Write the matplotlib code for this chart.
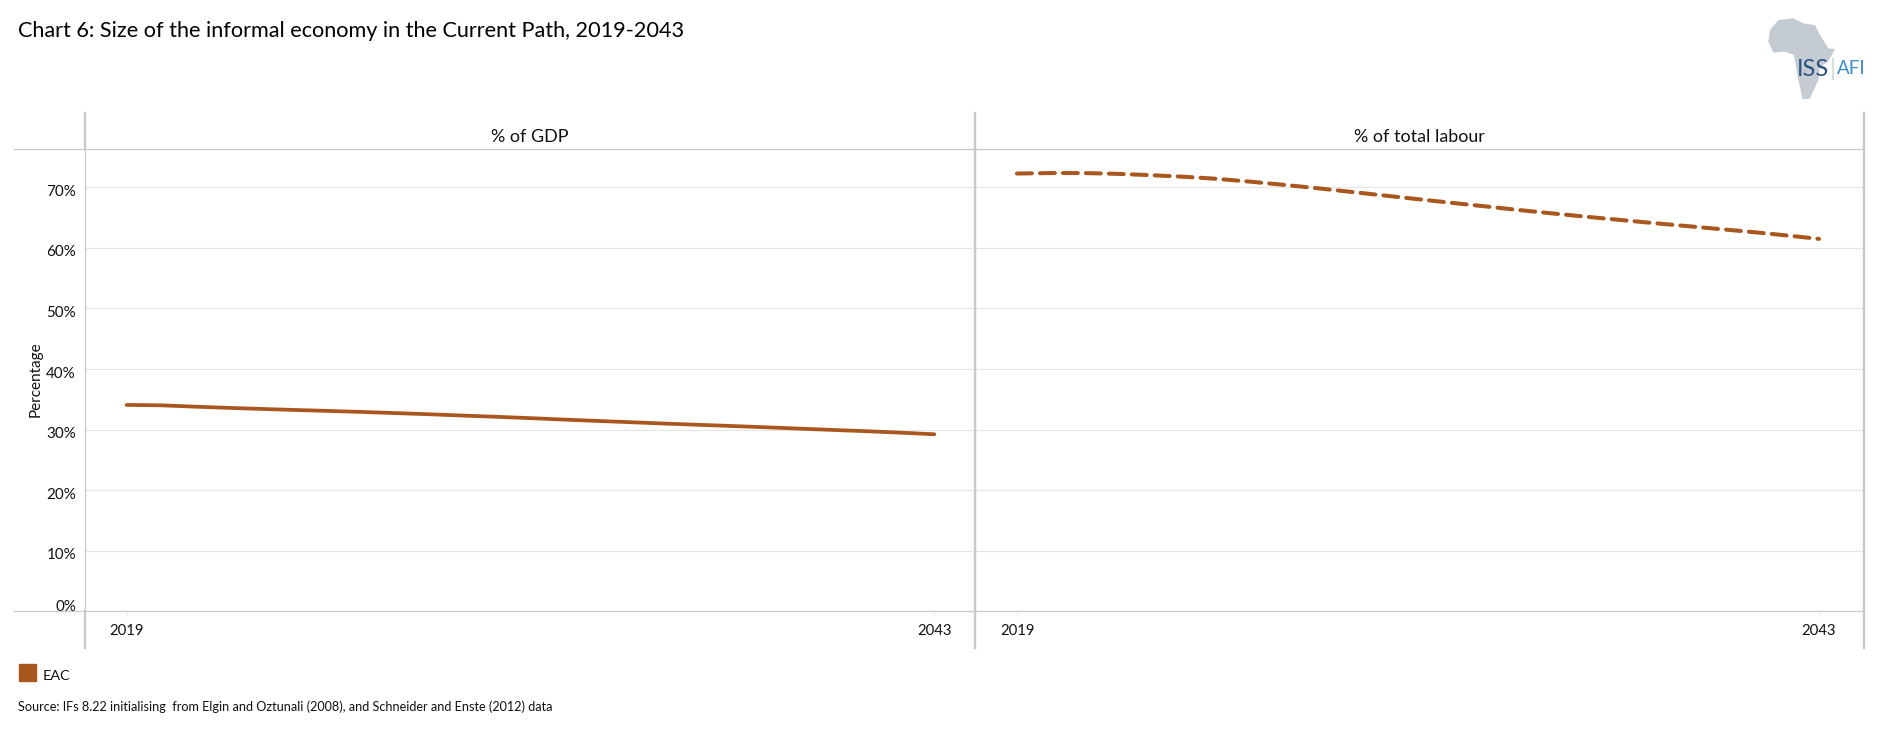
import matplotlib
matplotlib.use('Agg')
import matplotlib.pyplot as plt
from matplotlib.lines import Line2D
from matplotlib.patches import Polygon, Rectangle
from matplotlib.transforms import Affine2D

plt.rcParams['font.family'] = ['Lato', 'DejaVu Sans']

years = list(range(2019, 2044))
gdp_share = [34.06, 34.00, 33.78, 33.58, 33.40, 33.23, 33.07, 32.90, 32.71, 32.52, 32.30, 32.10, 31.88,
             31.64, 31.42, 31.20, 30.98, 30.78, 30.58, 30.37, 30.15, 29.93, 29.72, 29.48, 29.22]
labour_share = [72.25, 72.33, 72.33, 72.20, 71.98, 71.72, 71.37, 70.90, 70.38, 69.82, 69.22, 68.62, 68.02,
                67.42, 66.84, 66.24, 65.68, 65.14, 64.62, 64.10, 63.60, 63.10, 62.60, 62.05, 61.46]
panel_titles = ['% of GDP', '% of total labour']
y_ticks = [0, 10, 20, 30, 40, 50, 60, 70]
y_labels = ['0%', '10%', '20%', '30%', '40%', '50%', '60%', '70%']
x_labels = [2019, 2043]
series_name = 'EAC'

W, H = 1880, 739
BROWN = '#a9561f'
AXIS = '#c9c9c9'
GRID = '#e4e4e4'
TEXT = '#111111'

fig = plt.figure(figsize=(W / 100, H / 100), dpi=100)
px = Affine2D().scale(1 / W, -1 / H).translate(0, 1) + fig.transFigure  # pixel coords, y down


def add_axes_px(x0, x1, y0, y1):
    return fig.add_axes([x0 / W, 1 - y1 / H, (x1 - x0) / W, (y1 - y0) / H])


def setup(ax, x_first, x_last):
    # x limits chosen so 2019 and 2043 land on the measured pixels
    l, r = ax.get_position().x0 * W, ax.get_position().x1 * W
    per_year = (x_last - x_first) / 24
    ax.set_xlim(2019 - (x_first - l) / per_year, 2043 + (r - x_last) / per_year)
    ax.set_ylim(0, 76.3)
    ax.set_yticks(y_ticks)
    ax.set_yticklabels([])
    ax.tick_params(axis='y', length=0)
    ax.set_xticks(x_labels)
    ax.set_xticklabels([str(v) for v in x_labels], fontsize=10.7, color=TEXT)
    ax.tick_params(axis='x', length=4, width=0.7, color='#eeeeee', pad=5.5)
    ax.grid(axis='y', color=GRID, lw=0.8)
    ax.set_axisbelow(True)
    ax.spines['right'].set_visible(False)
    for s in ['left', 'top', 'bottom']:
        ax.spines[s].set_color(AXIS)
        ax.spines[s].set_linewidth(0.9)
    ax.patch.set_alpha(0)


ax1 = add_axes_px(85, 975, 149, 611.3)
ax2 = add_axes_px(975, 1864, 149, 611.3)
setup(ax1, 126.7, 934.3)
setup(ax2, 1017, 1819)

ax1.plot(years, gdp_share, color=BROWN, lw=2.7, solid_capstyle='round')
ax2.plot(years, labour_share, color=BROWN, lw=2.9, dashes=(3.7, 2.0), dash_capstyle='round')

ax1.set_title(panel_titles[0], fontsize=12.9, color=TEXT, pad=5)
ax2.set_title(panel_titles[1], fontsize=12.9, color=TEXT, pad=5)

for v, lab in zip(y_ticks, y_labels):
    off = 3.2 if v == 0 else -3.4
    ax1.annotate(lab, (0, v), xycoords=ax1.get_yaxis_transform(), xytext=(-6.5, off),
                 textcoords='offset points', ha='right', va='center', fontsize=10.9, color=TEXT)

# frame pieces that run past the plot area
for x0, y0, x1, y1, w in [(14, 149, 85, 149, 0.9), (14, 611.3, 85, 611.3, 0.9),
                          (85, 113, 85, 149, 1.7), (85, 611, 85, 648, 1.7),
                          (975, 113, 975, 648, 1.7), (1864, 113, 1864, 648, 1.7)]:
    fig.add_artist(Line2D([x0, x1], [y0, y1], color=AXIS, lw=w, transform=px))

fig.text(18, 31, 'Chart 6: Size of the informal economy in the Current Path, 2019-2043', transform=px,
         fontsize=15.6, color='#000000', va='center', ha='left')
fig.text(36, 379, 'Percentage', transform=px, rotation=90, fontsize=11, color=TEXT, va='center', ha='center')

# legend
fig.add_artist(Rectangle((19, 664), 17, 17, color=BROWN, transform=px))
fig.text(43, 676.5, series_name, transform=px, fontsize=10.4, color=TEXT, va='center', ha='left')
fig.text(18, 707, 'Source: IFs 8.22 initialising  from Elgin and Oztunali (2008), and Schneider and Enste (2012) data',
         transform=px, fontsize=9.05, color=TEXT, va='center', ha='left')

# logo
africa = [(175, 60), (220, 55), (250, 70), (285, 75), (300, 105), (325, 145), (345, 147), (325, 185), (300, 200),
          (295, 240), (270, 295), (248, 298), (235, 240), (222, 165), (195, 155), (160, 158), (145, 125), (150, 90)]
fig.add_artist(Polygon([(1720 + x / 3, y / 3) for x, y in africa], closed=True, color='#c5cbd3', lw=0, transform=px))
fig.text(1797, 69, 'ISS', transform=px, fontsize=17, color='#2a5580', va='center', ha='left')
fig.add_artist(Line2D([1833, 1833], [59, 79], color='#cfe3d8', lw=1.5, transform=px))
fig.text(1837, 69, 'AFI', transform=px, fontsize=13.5, color='#3c8fc9', va='center', ha='left')

fig.savefig('out.png', dpi=100)
